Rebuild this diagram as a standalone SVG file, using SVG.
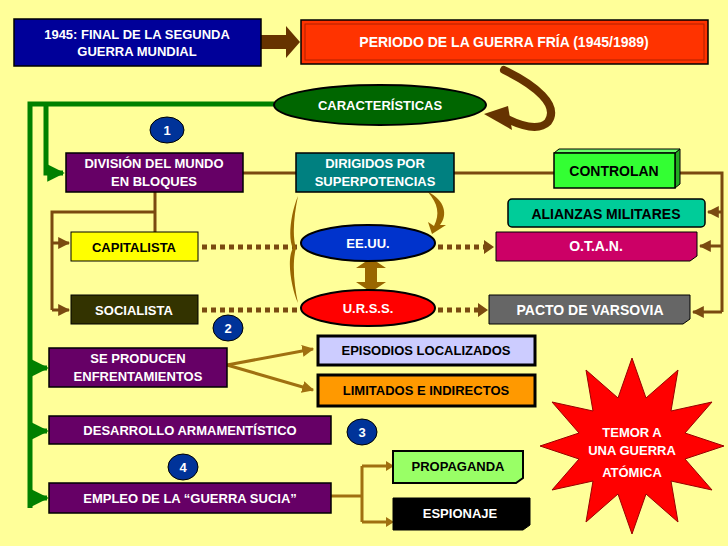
<svg xmlns="http://www.w3.org/2000/svg" width="728" height="546" viewBox="0 0 728 546">
<defs>
<marker id="ab" viewBox="0 0 10 10" refX="9" refY="5" markerWidth="4" markerHeight="4" orient="auto"><path d="M0,0L10,5L0,10z" fill="#7a4a10"/></marker>
<marker id="ag" viewBox="0 0 10 10" refX="9" refY="5" markerWidth="3.5" markerHeight="3.5" orient="auto"><path d="M0,0L10,5L0,10z" fill="#008000"/></marker>
<marker id="ao" viewBox="0 0 10 10" refX="9" refY="5" markerWidth="4" markerHeight="4" orient="auto"><path d="M0,0L10,5L0,10z" fill="#a07010"/></marker>
</defs>
<style>
text{font-family:"Liberation Sans",Arial,sans-serif;font-weight:bold;font-size:13px;text-anchor:middle}
.w{fill:#fff}.k{fill:#000}
.bx{stroke:#000;stroke-width:1.5}
.br{stroke:#7a4a10;stroke-width:3;fill:none}
.dot{stroke:#7a4a10;stroke-width:5;stroke-dasharray:5 4;fill:none}
.gr{stroke:#008000;stroke-width:5;fill:none}
.ol{stroke:#a07010;stroke-width:3;fill:none}
.num{fill:#003399;stroke:#000;stroke-width:1}
</style>
<rect width="728" height="546" fill="#FFFF99"/>
<g id="connectors">
<path d="M261,42H286" stroke="#663300" stroke-width="14"/>
<path d="M286,26L300,42L286,58z" fill="#663300"/>
<path d="M504,70C535,85 560,105 548,122C540,130 525,128 505,118" stroke="#663300" stroke-width="8" fill="none" stroke-linecap="round"/>
<path d="M508,106L484,114L512,130z" fill="#663300"/>
<path class="gr" d="M274,104H30V508"/>
<path class="gr" d="M46,104V173H63" marker-end="url(#ag)"/>
<path class="gr" d="M30,368H47" marker-end="url(#ag)"/>
<path class="gr" d="M30,431H47" marker-end="url(#ag)"/>
<path class="gr" d="M30,498H47" marker-end="url(#ag)"/>
<path class="br" d="M243,173H296M454,173H554M675,173H722V312"/>
<path class="br" d="M722,212H708" marker-end="url(#ab)"/>
<path class="br" d="M722,246H700" marker-end="url(#ab)"/>
<path class="br" d="M722,312H693" marker-end="url(#ab)"/>
<path class="br" d="M155,192V233M155,212H52V310"/>
<path class="br" d="M52,243H69" marker-end="url(#ab)"/>
<path class="br" d="M52,310H69" marker-end="url(#ab)"/>
<path class="dot" d="M202,247H298M202,310H298"/>
<path class="dot" d="M438,247H484M438,310H478"/>
<path d="M484,240L494,247L484,254z M478,303L488,310L478,317z" fill="#7a4a10"/>
<path d="M371,258L386,268H377V282H386L371,292L356,282H365V268H356z" fill="#996600"/>
<path d="M298,196C290,215 288,240 293,248C286,260 292,290 298,303C294,285 292,262 296,248C292,236 294,215 298,196z" fill="#996600"/>
<path d="M428,192C445,200 448,215 440,225L446,225L432,234L428,222L434,226C440,214 438,204 428,192z" fill="#996600"/>
<path class="ol" d="M227,365L313,349" marker-end="url(#ao)"/>
<path class="ol" d="M227,365L313,390" marker-end="url(#ao)"/>
<path class="ol" d="M331,496H362M362,466V522M362,466H391M362,522H391"/>
<path d="M386,461L394,466L386,471z M386,517L394,522L386,527z" fill="#a07010"/>
</g>
<g id="n1945"><rect class="bx" x="14" y="19" width="247" height="47" fill="#000099"/><text class="w" x="137" y="39">1945: FINAL DE LA SEGUNDA</text><text class="w" x="137" y="56">GUERRA MUNDIAL</text></g>
<g id="periodo"><rect class="bx" x="301" y="20" width="407" height="44" fill="#FF3300"/><rect x="305" y="24" width="399" height="36" fill="none" stroke="#B02000" stroke-width="1"/><text class="w" x="504" y="47" style="font-size:14px">PERIODO DE LA GUERRA FRÍA (1945/1989)</text></g>
<g id="caract"><ellipse cx="380" cy="105" rx="106" ry="20" fill="#006600" stroke="#000" stroke-width="2"/><text class="w" x="380" y="110">CARACTERÍSTICAS</text></g>
<g id="c1"><ellipse class="num" cx="167" cy="130" rx="17" ry="13"/><text class="w" x="167" y="135">1</text></g>
<g id="division"><rect class="bx" x="66" y="153" width="177" height="39" fill="#660066"/><text class="w" x="154" y="168">DIVISIÓN DEL MUNDO</text><text class="w" x="154" y="186">EN BLOQUES</text></g>
<g id="dirigidos"><rect class="bx" x="296" y="153" width="158" height="39" fill="#008080"/><text class="w" x="375" y="168">DIRIGIDOS POR</text><text class="w" x="375" y="186">SUPERPOTENCIAS</text></g>
<g id="controlan"><path d="M675,153l5,-4v35l-5,4z" fill="#22AA22" stroke="#000"/><path d="M554,153l5,-4h121l-5,4z" fill="#66FF66" stroke="#000"/><rect class="bx" x="554" y="153" width="121" height="35" fill="#33FF33"/><text class="k" x="614" y="176" style="font-size:14px">CONTROLAN</text></g>
<g id="alianzas"><rect class="bx" x="508" y="199" width="197" height="28" rx="4" fill="#00CC99"/><text class="k" x="606" y="219" style="font-size:14px">ALIANZAS MILITARES</text></g>
<g id="capitalista"><rect x="71" y="232" width="127" height="29" fill="#FFFF00" stroke="#000"/><text class="k" x="134" y="252">CAPITALISTA</text></g>
<g id="eeuu"><ellipse cx="368" cy="243" rx="67" ry="18" fill="#0033CC" stroke="#000" stroke-width="2"/><text class="w" x="368" y="248">EE.UU.</text></g>
<g id="otan"><path d="M496,232H697V256L690,261H496z" fill="#CC0066" stroke="#000"/><text class="w" x="596" y="251" style="font-size:14px">O.T.A.N.</text></g>
<g id="socialista"><rect x="71" y="295" width="127" height="29" fill="#333300" stroke="#000"/><text class="w" x="134" y="315">SOCIALISTA</text></g>
<g id="urss"><ellipse cx="368" cy="308" rx="67" ry="18" fill="#FF0000" stroke="#000" stroke-width="2"/><text class="w" x="368" y="313">U.R.S.S.</text></g>
<g id="pacto"><path d="M489,295H690V319L683,324H489z" fill="#666666" stroke="#000"/><text class="w" x="590" y="315" style="font-size:14px">PACTO DE VARSOVIA</text></g>
<g id="c2"><ellipse class="num" cx="228" cy="328" rx="15" ry="13"/><text class="w" x="228" y="333">2</text></g>
<g id="seproducen"><rect class="bx" x="49" y="348" width="178" height="39" fill="#660066"/><text class="w" x="138" y="363">SE PRODUCEN</text><text class="w" x="138" y="381">ENFRENTAMIENTOS</text></g>
<g id="episodios"><rect x="318" y="336" width="217" height="29" fill="#CCCCFF" stroke="#000" stroke-width="3"/><text class="k" x="426" y="355">EPISODIOS LOCALIZADOS</text></g>
<g id="limitados"><rect x="318" y="375" width="217" height="31" fill="#FF9900" stroke="#000" stroke-width="3"/><text class="k" x="426" y="395">LIMITADOS E INDIRECTOS</text></g>
<g id="desarrollo"><rect class="bx" x="49" y="416" width="282" height="28" fill="#660066"/><text class="w" x="190" y="435">DESARROLLO ARMAMENTÍSTICO</text></g>
<g id="c3"><ellipse class="num" cx="362" cy="432" rx="15" ry="13"/><text class="w" x="362" y="437">3</text></g>
<g id="c4"><ellipse class="num" cx="183" cy="467" rx="15" ry="13"/><text class="w" x="183" y="472">4</text></g>
<g id="empleo"><rect class="bx" x="49" y="483" width="282" height="30" fill="#660066"/><text class="w" x="190" y="503">EMPLEO DE LA “GUERRA SUCIA”</text></g>
<g id="propaganda"><path d="M393,451H523V478L516,483H393z" fill="#99FF66" stroke="#000" stroke-width="2"/><text class="k" x="458" y="471">PROPAGANDA</text></g>
<g id="espionaje"><path d="M393,498H530V525L523,530H393z" fill="#000" stroke="#000"/><text class="w" x="460" y="518">ESPIONAJE</text></g>
<g id="temor"><polygon points="632,358 646,398 678,370 671,411 712,402 685,433 724,446 685,459 712,490 671,481 678,522 646,494 632,534 618,494 586,522 593,481 552,490 579,459 540,446 579,433 552,402 593,411 586,370 618,398" fill="#FF0000" stroke="#990000"/><text class="w" x="632" y="437">TEMOR A</text><text class="w" x="632" y="455">UNA GUERRA</text><text class="w" x="632" y="477">ATÓMICA</text></g>
</svg>
